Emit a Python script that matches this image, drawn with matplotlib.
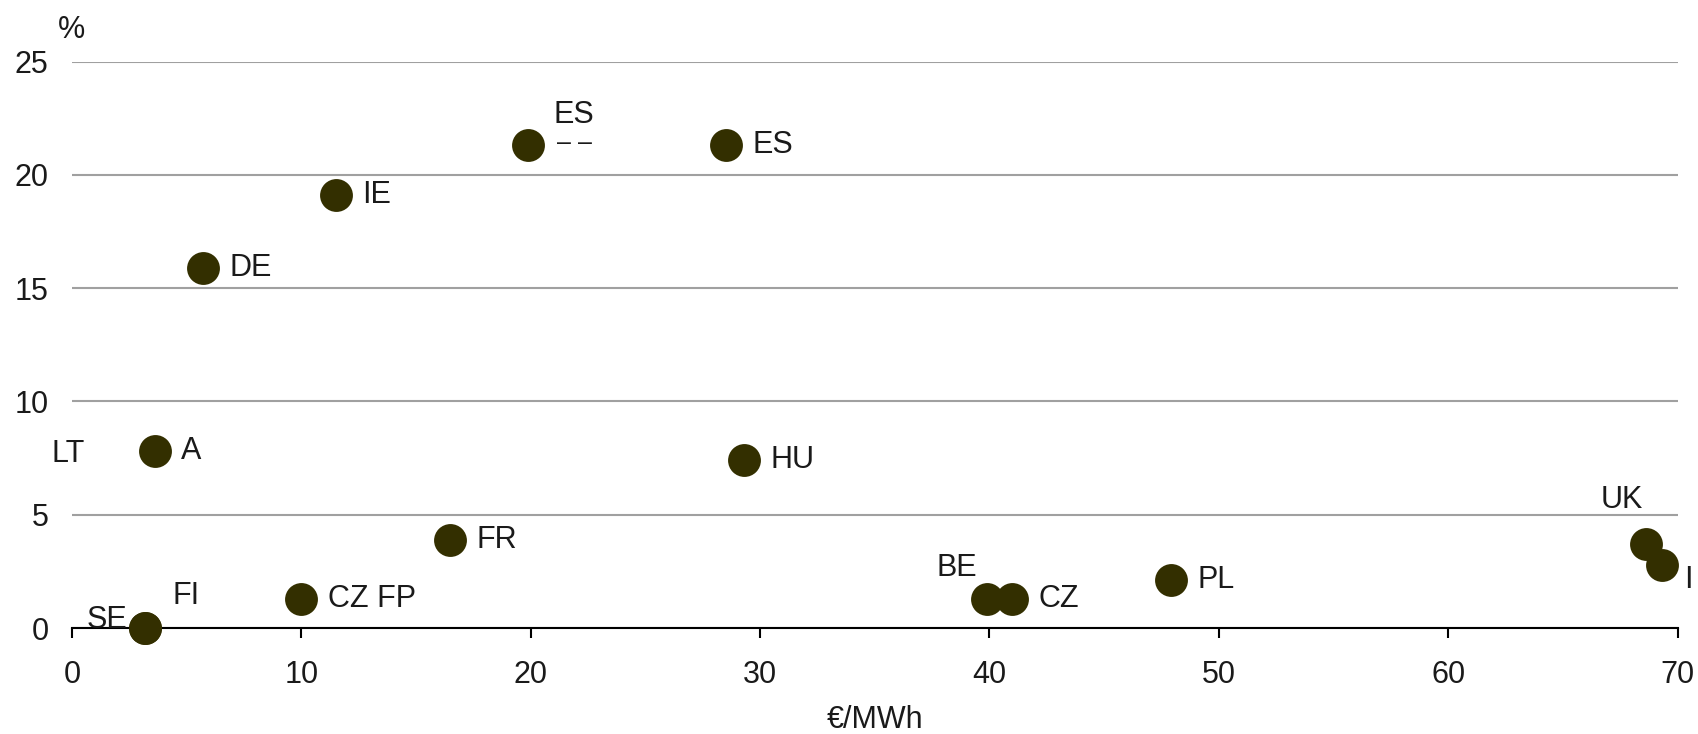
import matplotlib.pyplot as plt

plt.rcParams['font.family'] = ['Liberation Sans', 'DejaVu Sans']

# price (EUR/MWh) vs share (%)
x_vals = [3.2, 3.2, 3.6, 5.7, 11.5, 19.9, 28.5, 29.3, 16.5, 10.0, 39.9, 41.0, 47.9, 68.6, 69.3]
y_vals = [0.0, 0.0, 7.8, 15.9, 19.1, 21.3, 21.3, 7.4, 3.9, 1.3, 1.3, 1.3, 2.1, 3.7, 2.8]
labels = ["SE", "FI", "A", "DE", "IE", "ES", "ES", "HU", "FR", "CZ FP", "BE", "CZ", "PL", "UK", "I"]
extra_labels = ["LT", "– –"]

dot = '#332f00'
fs = 22
tc = '#1a1a1a'

fig = plt.figure(figsize=(16.98, 7.34), dpi=100)
ax = fig.add_axes([0.0424, 0.1444, 0.9456, 0.7716])

ax.scatter(x_vals, y_vals, s=560, color=dot, zorder=3, clip_on=False, linewidths=0)

# label offsets in points, keyed by index (most go right of the dot)
offsets = {
    0: (-28, 6, 'center'),
    1: (29, 23, 'center'),
    5: (33, 22, 'center'),
    10: (-22, 22, 'center'),
    13: (-17, 32, 'center'),
    14: (19, -11, 'center'),
}
for i, (xv, yv, lab) in enumerate(zip(x_vals, y_vals, labels)):
    dx, dy, ha = offsets.get(i, (19, 0, 'left'))
    ax.annotate(lab, (xv, yv), xytext=(dx, dy), textcoords='offset points',
                ha=ha, va='center', fontsize=fs, color=tc)
# LT sits well left of the A dot, dashes under the first ES
ax.annotate(extra_labels[0], (x_vals[2], y_vals[2]), xytext=(-62, -2),
            textcoords='offset points', ha='center', va='center',
            fontsize=fs, color=tc)
ax.annotate(extra_labels[1], (x_vals[5], y_vals[5]), xytext=(33, 2),
            textcoords='offset points', ha='center', va='center',
            fontsize=18, color=tc)

ax.set_xlim(0, 70)
ax.set_ylim(0, 25)
ax.set_xticks(range(0, 71, 10))
ax.set_yticks([0, 5, 10, 15, 20, 25])
ax.yaxis.grid(True, color='#a0a0a0', linewidth=1.5)
ax.set_axisbelow(True)
for s in ['top', 'right', 'left']:
    ax.spines[s].set_visible(False)
ax.spines['bottom'].set_linewidth(1.5)
ax.spines['bottom'].set_zorder(2)
ax.tick_params(axis='y', length=0, pad=17, labelsize=fs, labelcolor=tc)
ax.tick_params(axis='x', length=7, width=1.5, pad=16, labelsize=fs, labelcolor=tc)
ax.set_xlabel("€/MWh", fontsize=fs, color=tc, labelpad=11)
ax.text(0, 1.03, "%", transform=ax.transAxes, fontsize=fs, color=tc, ha='center', va='bottom')

fig.savefig("out.png", dpi=100)
